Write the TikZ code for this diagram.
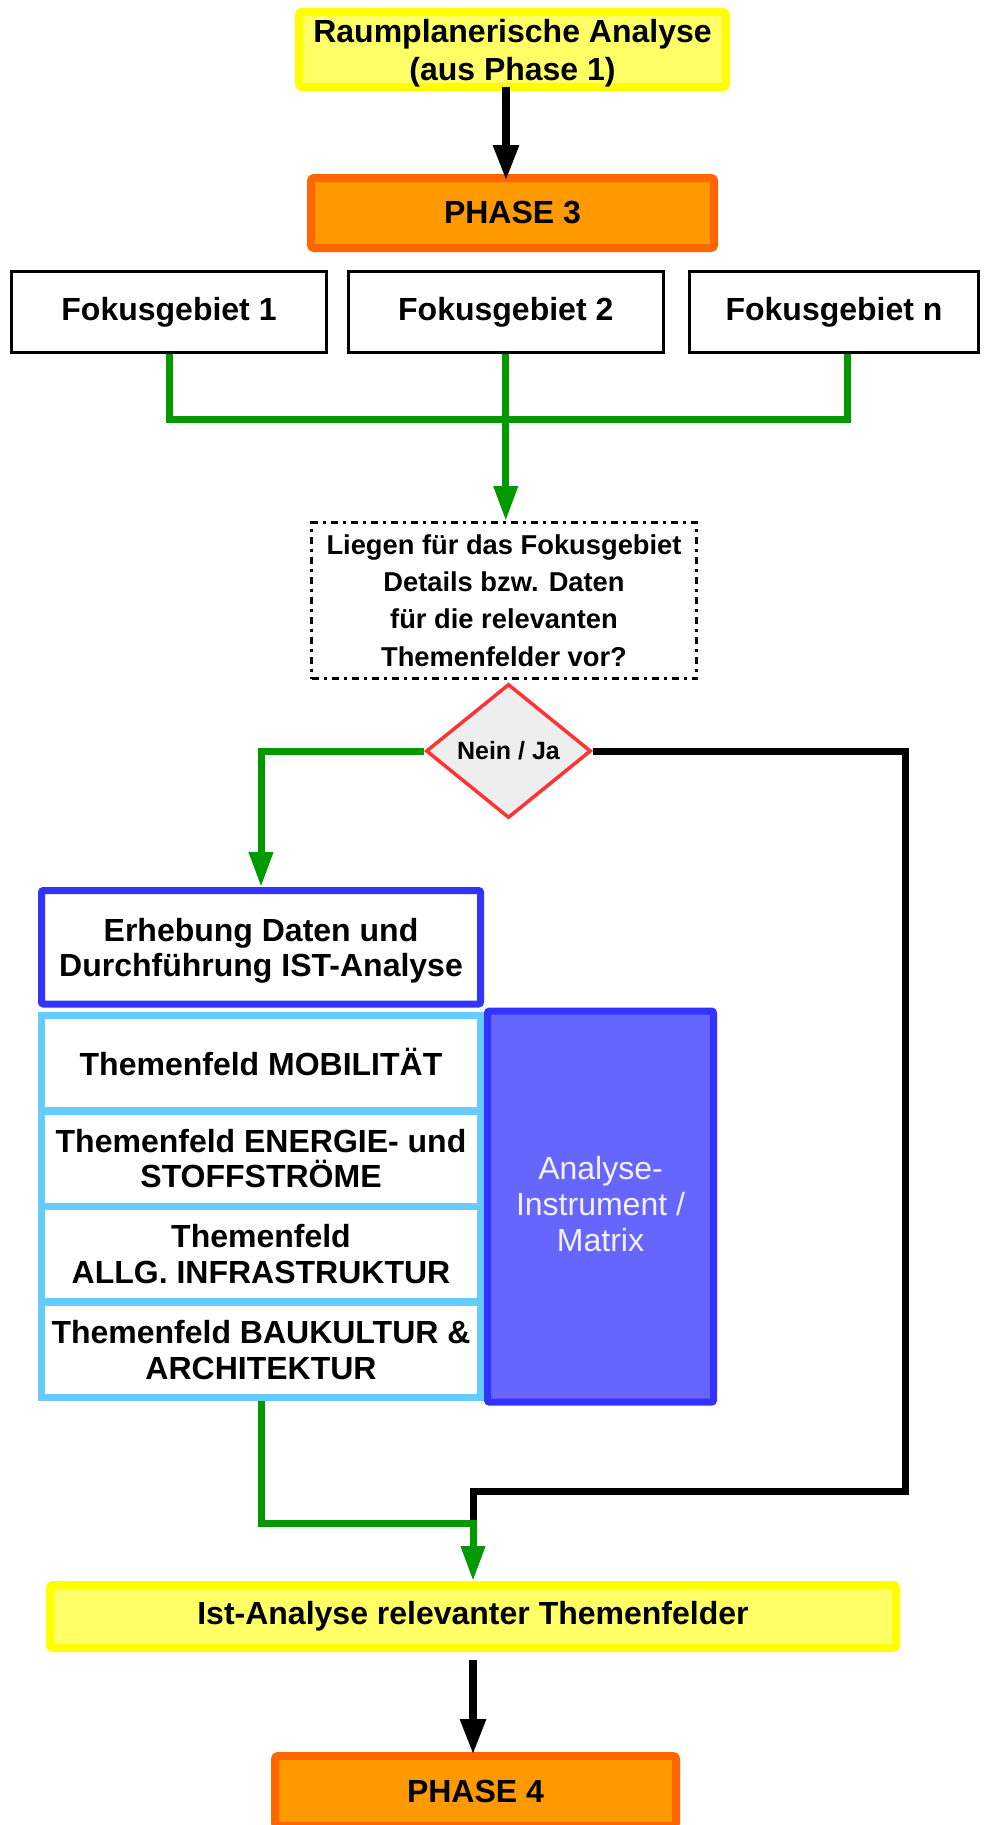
\documentclass[tikz,border=0pt]{standalone}
\usepackage{fontspec}
\setmainfont{Liberation Sans}
\usetikzlibrary{arrows.meta,shapes.geometric}
\definecolor{yb}{HTML}{FFFF00}
\definecolor{yf}{HTML}{FFFF66}
\definecolor{ob}{HTML}{FF6600}
\definecolor{of}{HTML}{FF9900}
\definecolor{bb}{HTML}{3333FF}
\definecolor{pf}{HTML}{6666FF}
\definecolor{lbc}{HTML}{66CCFF}
\definecolor{gc}{HTML}{009900}
\definecolor{rc}{HTML}{FF3333}
\definecolor{dg}{HTML}{EEEEEE}
\definecolor{wt}{HTML}{F2F2FF}
\tikzset{
  base/.style={inner sep=0pt, align=center, font=\bfseries\fontsize{32}{37}\selectfont},
  ybox/.style={base, draw=yb, fill=yf, line width=8pt, rounded corners=3pt},
  obox/.style={base, draw=ob, fill=of, line width=8pt, rounded corners=3pt},
  fokbox/.style={base, draw=black, line width=3pt},
  qbox/.style={base, draw=black, line width=3pt, dash pattern=on 7pt off 5pt on 3pt off 5pt,
    font=\bfseries\fontsize{27.3}{37.3}\selectfont},
  ebox/.style={base, draw=bb, fill=white, line width=7pt, rounded corners=2pt},
  cellbox/.style={base, fill=white, minimum width=432pt, minimum height=88.1pt,
    font=\bfseries\fontsize{32}{35.5}\selectfont},
  abox/.style={base, draw=bb, fill=pf, line width=7pt, rounded corners=2pt},
  atext/.style={base, text=wt, font=\fontsize{32}{36}\selectfont},
  blackarrow/.style={draw=black, line width=8.5pt, -{Triangle[length=36pt,width=24pt]}},
  greenline/.style={draw=gc, line width=7pt},
  greenarrow/.style={greenline, -{Triangle[length=35pt,width=23pt]}},
  blackline/.style={draw=black, line width=7pt},
}
\begin{document}
\begin{tikzpicture}[x=1pt,y=-1pt]
\useasboundingbox (0,0) rectangle (999,1825);
\clip (0,0) rectangle (999,1825);

% boxes
\node[ybox, minimum width=427pt, minimum height=75pt] (top) at (512.5,49.5) {};
\node[base, font=\bfseries\fontsize{32}{38}\selectfont] (toptext) at ([yshift=-4pt]top.center)
  {Raumplanerische Analyse\\(aus Phase 1)};
\node[obox, minimum width=403pt, minimum height=70pt] (p3) at (512.5,213) {PHASE 3};

\node[fokbox, minimum width=315pt, minimum height=81pt] (f1) at (169,312) {Fokusgebiet 1};
\node[fokbox, minimum width=314.5pt, minimum height=81pt] (f2) at (505.75,312) {Fokusgebiet 2};
\node[fokbox, minimum width=289pt, minimum height=81pt] (fn) at (834,312) {Fokusgebiet n};

\node[qbox, minimum width=385pt, minimum height=156pt] (q) at (504,600.5)
  {Liegen für das Fokusgebiet\\Details bzw. Daten\\für die relevanten\\Themenfelder vor?};

\node[diamond, draw=rc, fill=dg, line width=3.5pt, minimum width=165pt, minimum height=134pt,
  inner sep=0pt, font=\bfseries\fontsize{25}{28}\selectfont] (d) at (508.5,751) {Nein / Ja};

\node[ebox, minimum width=439pt, minimum height=113.5pt] (erh) at (261,947.25) {};
\node[base, font=\bfseries\fontsize{32}{35}\selectfont] (erhtext) at ([yshift=-4pt]erh.center)
  {Erhebung Daten und\\Durchführung IST-Analyse};

\node[base, fill=lbc, minimum width=446pt, minimum height=389pt] (lb) at (261,1206.5) {};
\node[cellbox] (c1) at (261,1063.05) {};
\node[base] (c1text) at ([yshift=1.5pt]c1.center) {Themenfeld MOBILITÄT};
\node[cellbox] (c2) at (261,1158.65) {Themenfeld ENERGIE- und\\STOFFSTRÖME};
\node[cellbox] (c3) at (261,1254.25) {Themenfeld\\ALLG. INFRASTRUKTUR};
\node[cellbox] (c4) at (261,1349.95) {Themenfeld BAUKULTUR \&\\ARCHITEKTUR};

\node[abox, minimum width=226pt, minimum height=391pt] (an) at (600.5,1206.6) {};
\node[atext] (antext) at ([yshift=3pt]an.center) {Analyse-\\Instrument /\\Matrix};

\node[ybox, minimum width=846pt, minimum height=63pt] (ist) at (473,1616.5)
  {Ist-Analyse relevanter Themenfelder};
\node[obox, minimum width=401pt, minimum height=70pt] (p4) at (475.5,1791) {PHASE 4};

% connectors
\draw[blackarrow, shorten >=-7pt, shorten <=-4pt]
  ([xshift=-6.5pt]top.south) -- ([xshift=-6.5pt]p3.north);

\coordinate (bus) at (506,419);
\draw[greenline] (f1.south) |- (bus) -| ([xshift=13pt]fn.south);
\draw[greenarrow] (f2.south) -- (f2.south |- q.north);

\draw[greenarrow] (d.west) -| (erh.north);

\coordinate (jr) at (905,1491);
\coordinate (join) at (473,1523);
\draw[blackline] (d.east) -| (jr) -| (join);
\draw[greenarrow] (lb.south) |- (join) -- (ist.north);

\draw[blackarrow, shorten <=8pt, shorten >=-3pt] (ist.south) -- (ist.south |- p4.north);
\end{tikzpicture}
\end{document}
